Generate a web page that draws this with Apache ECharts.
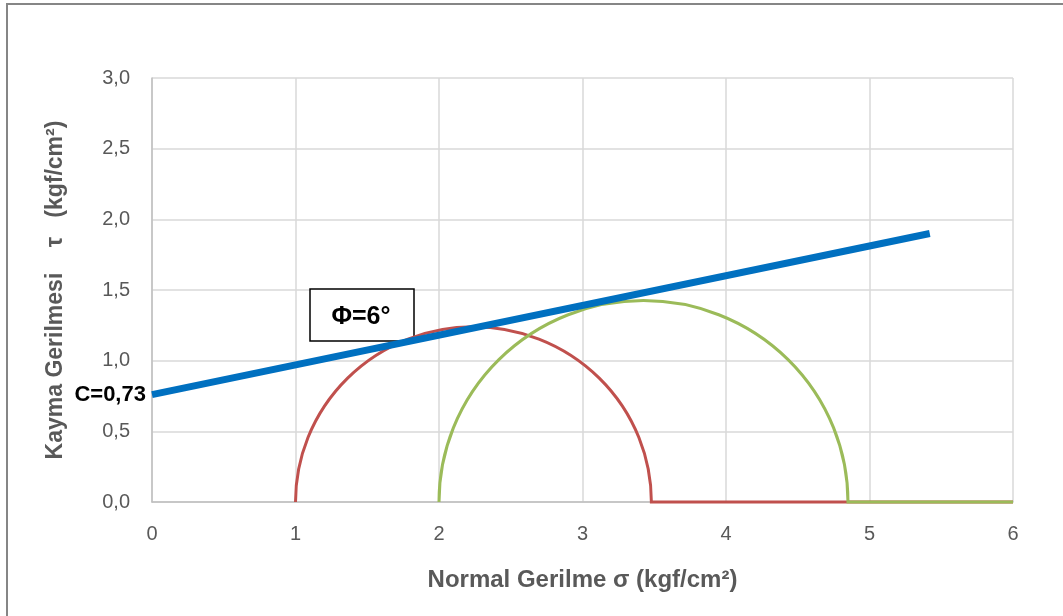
<!DOCTYPE html>
<html>
<head>
<meta charset="utf-8">
<script src="https://cdn.jsdelivr.net/npm/echarts@6/dist/echarts.min.js"></script>
<style>
  html, body { margin: 0; padding: 0; background: #fff; }
  #frame { position: absolute; left: 6px; top: 3px; width: 1200px; height: 800px;
           border-left: 2px solid #868686; border-top: 2px solid #868686; }
  #chart { position: absolute; left: 0; top: 0; width: 1063px; height: 616px; }
</style>
</head>
<body>
<div id="frame"></div>
<div id="chart"></div>
<script>
// Mohr circles: minor / major principal stress (kgf/cm2)
var sigma3 = [1.0, 2.0]
var sigma1 = [3.48, 4.85]
var tailEnd = [6, 6]
var circleNames = ['Numune 1', 'Numune 2']
var circleColors = ['#C0504D', '#9BBB59']

// failure envelope
var envX = [0, 5.42]
var envY = [0.76, 1.90]

var xTicks = [0, 1, 2, 3, 4, 5, 6]
var yTicks = [0, 0.5, 1, 1.5, 2, 2.5, 3]

var font = '"Liberation Sans", Arial, sans-serif'

function renderCircle(params, api) {
  var s3 = api.value(0), s1 = api.value(1), end = api.value(2)
  var c = (s3 + s1) / 2
  var r = (s1 - s3) / 2
  var a = api.coord([s3, 0])
  var b = api.coord([s1, 0])
  var top = api.coord([c, r])
  var e = api.coord([end, 0])
  var rx = (b[0] - a[0]) / 2
  var ry = a[1] - top[1]
  return {
    type: 'path',
    shape: {
      pathData: 'M' + a[0] + ' ' + a[1] +
        ' A' + rx + ' ' + ry + ' 0 0 1 ' + b[0] + ' ' + b[1] +
        ' L' + e[0] + ' ' + e[1]
    },
    style: { fill: null, stroke: api.visual('color'), lineWidth: 3 }
  }
}

var circleSeries = sigma3.map(function (s, i) {
  return {
    name: circleNames[i],
    type: 'custom',
    clip: false,
    z: 3 + i,
    itemStyle: { color: circleColors[i] },
    renderItem: renderCircle,
    data: [[s, sigma1[i], tailEnd[i]]]
  }
})

var envData = envX.map(function (x, i) {
  var item = { value: [x, envY[i]] }
  if (i === 0) {
    item.label = {
      show: true,
      position: 'left',
      distance: 6,
      formatter: 'C=0,73',
      color: '#000',
      fontWeight: 'bold',
      fontSize: 22,
      fontFamily: font
    }
  }
  return item
})

var chart = echarts.init(document.getElementById('chart'))
var option = {
  animation: false,
  grid: { left: 152, right: 50, top: 78, bottom: 114 },
  xAxis: {
    type: 'value',
    min: 0,
    max: 6,
    interval: 1,
    name: 'Normal Gerilme σ (kgf/cm²)',
    nameLocation: 'middle',
    nameGap: 66,
    nameTextStyle: { color: '#595959', fontSize: 24, fontWeight: 'bold', fontFamily: font },
    axisLine: { show: true, lineStyle: { color: '#BFBFBF', width: 1.5 } },
    axisTick: { show: false },
    axisLabel: { color: '#595959', fontSize: 20, margin: 22, fontFamily: font },
    splitLine: { show: true, lineStyle: { color: '#D9D9D9', width: 1.5 } }
  },
  yAxis: {
    type: 'value',
    min: 0,
    max: 3,
    interval: 0.5,
    name: 'Kayma Gerilmesi    τ   (kgf/cm²)',
    nameLocation: 'middle',
    nameGap: 85,
    nameTextStyle: { color: '#595959', fontSize: 23, fontWeight: 'bold', fontFamily: font },
    axisLine: { show: true, lineStyle: { color: '#BFBFBF', width: 1.5 } },
    axisTick: { show: false },
    axisLabel: {
      color: '#595959', fontSize: 20, margin: 22, fontFamily: font,
      formatter: function (v) { return v.toFixed(1).replace('.', ',') }
    },
    splitLine: { show: true, lineStyle: { color: '#D9D9D9', width: 1.5 } }
  },
  graphic: [
    {
      type: 'rect',
      z: 1,
      shape: { x: 310, y: 289, width: 104, height: 52 },
      style: { fill: '#fff', stroke: '#000', lineWidth: 1.5 }
    },
    {
      type: 'text',
      z: 1,
      x: 361,
      y: 317,
      style: {
        text: 'Φ=6°',
        fill: '#000',
        font: 'bold 25px ' + font,
        align: 'center',
        verticalAlign: 'middle'
      }
    }
  ],
  series: circleSeries.concat([
    {
      name: 'Zarf',
      type: 'line',
      z: 6,
      symbol: 'circle',
      symbolSize: 0.1,
      itemStyle: { color: '#0070C0' },
      lineStyle: { color: '#0070C0', width: 7 },
      data: envData
    }
  ])
}
chart.setOption(option)
</script>
</body>
</html>
